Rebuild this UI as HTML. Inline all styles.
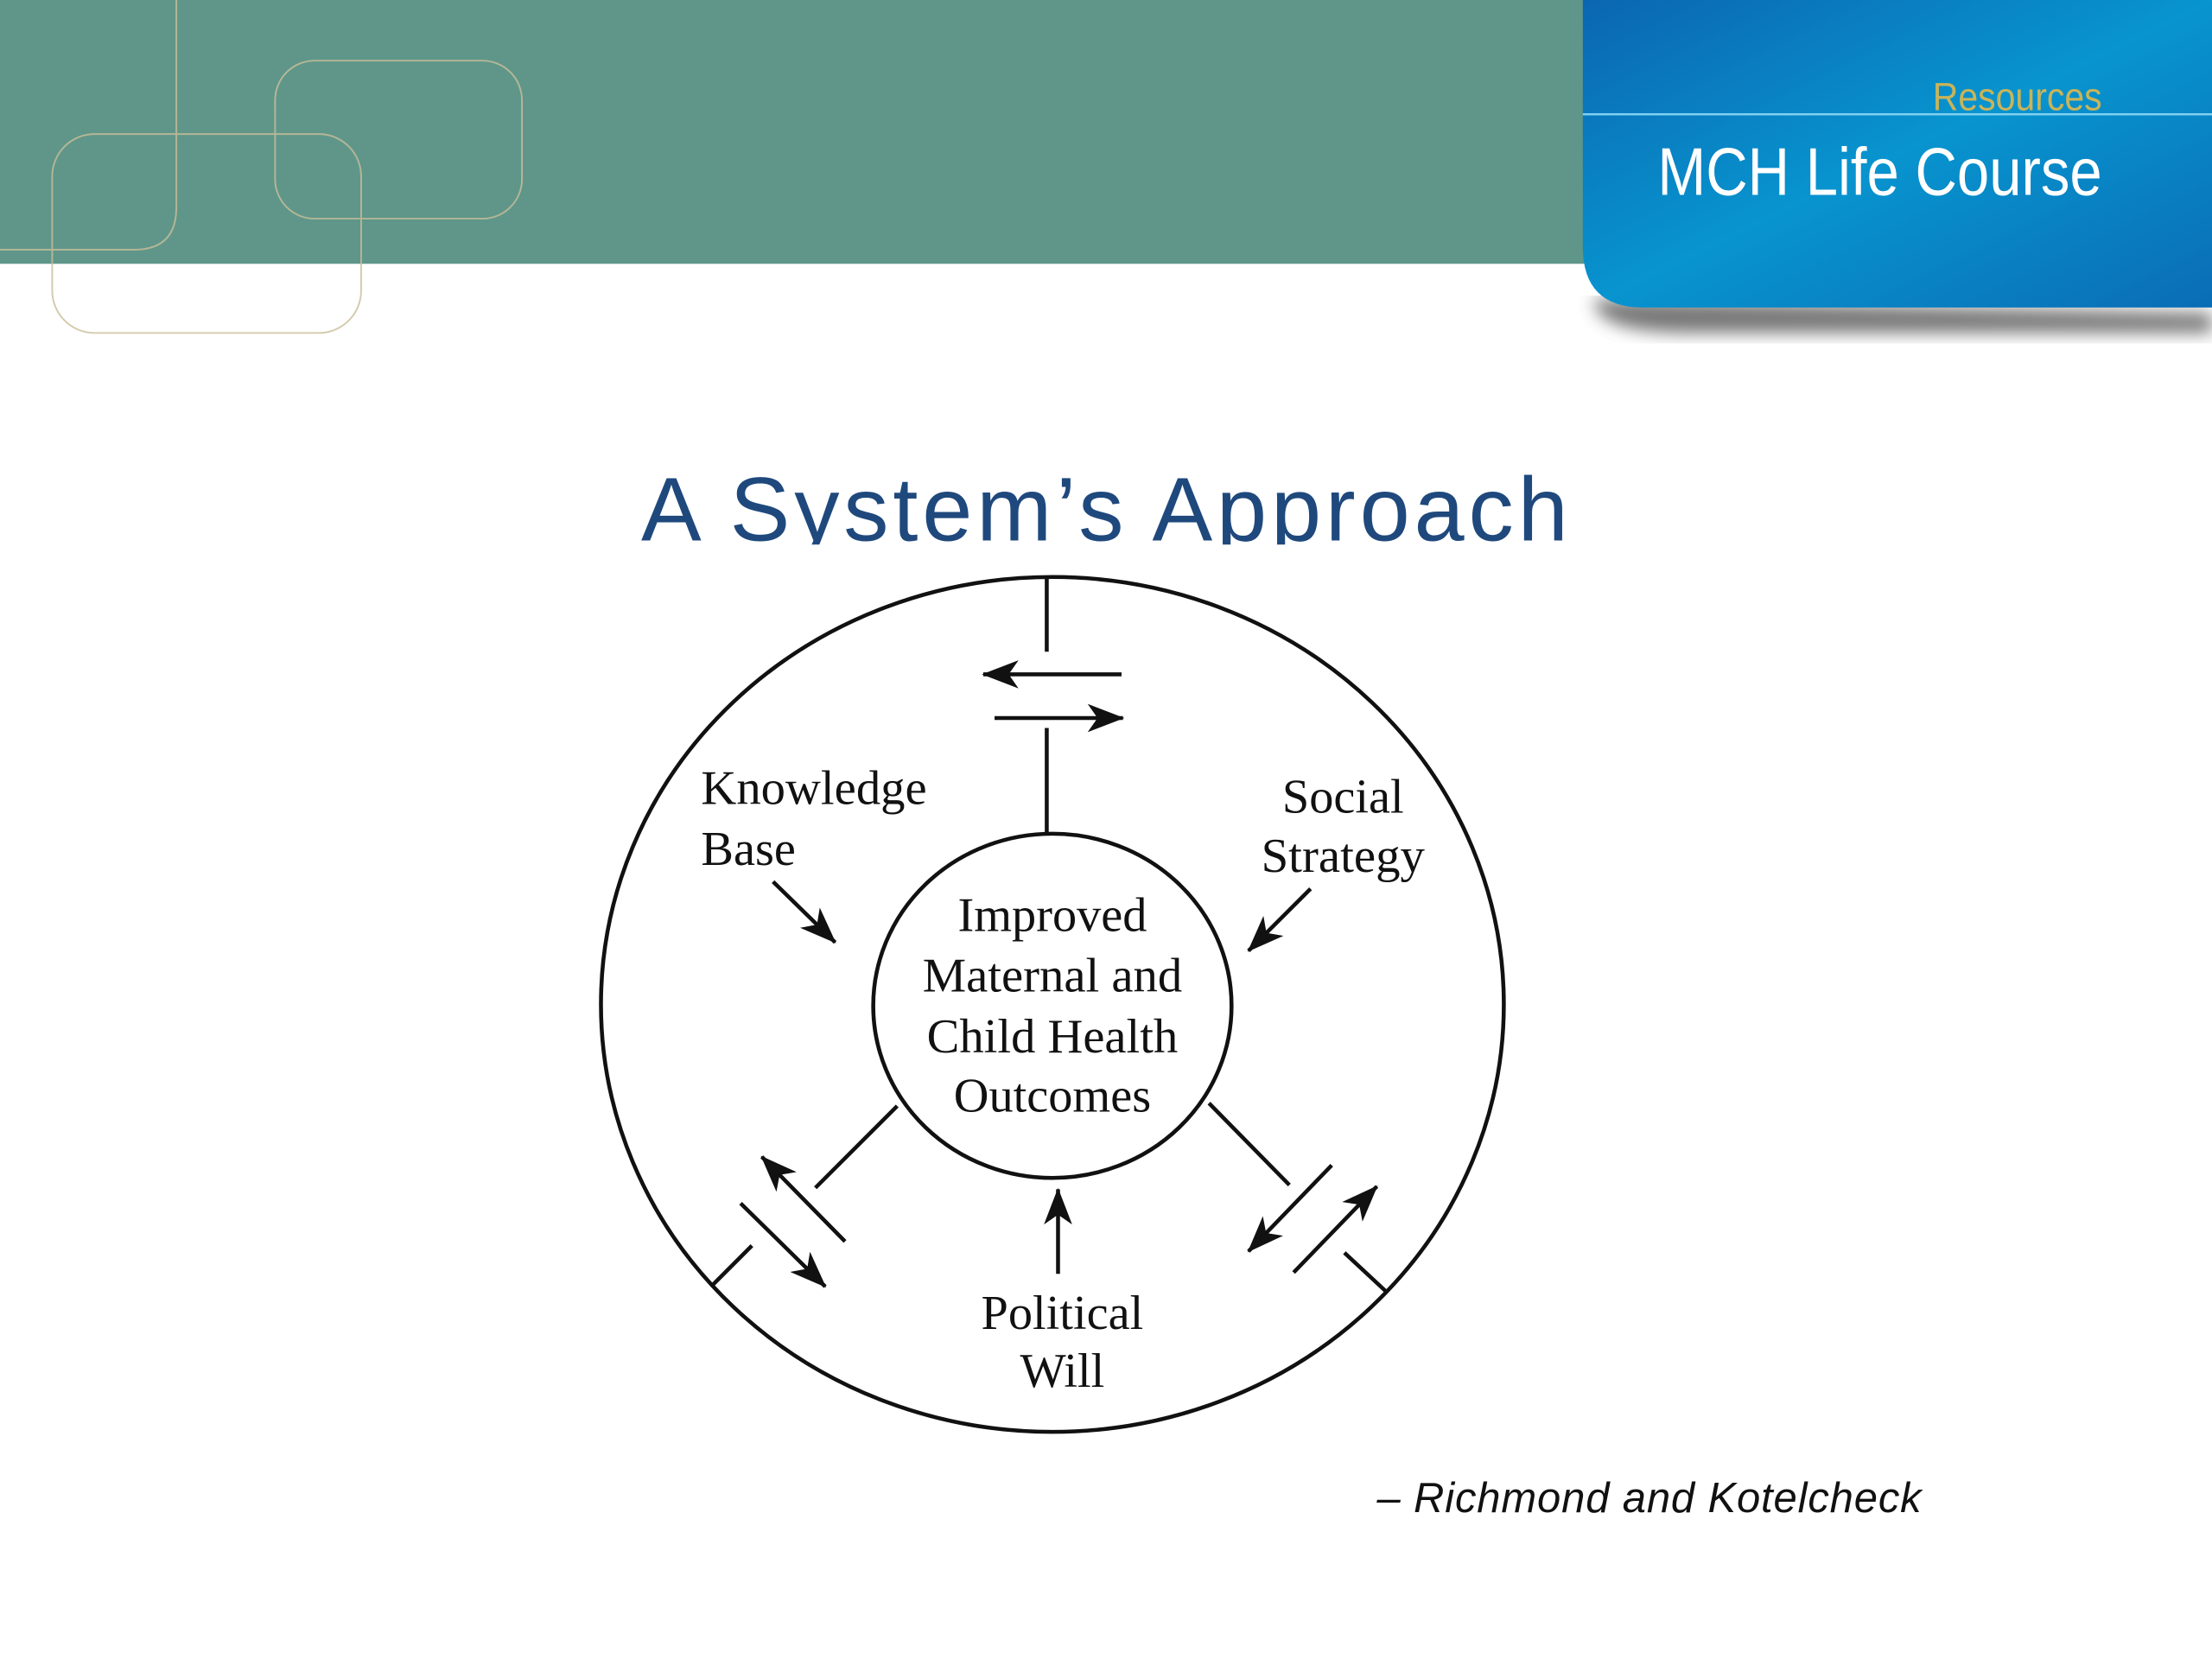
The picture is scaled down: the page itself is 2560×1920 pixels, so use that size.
<!DOCTYPE html>
<html><head><meta charset="utf-8"><style>
html,body{margin:0;padding:0;background:#fff;}
svg{display:block;}
</style></head><body>
<svg width="2560" height="1920" viewBox="0 0 1568 1176" xmlns="http://www.w3.org/2000/svg">
<defs>
<linearGradient id="bl" x1="0" y1="0" x2="1" y2="1">
<stop offset="0" stop-color="#0b66b2"/><stop offset="0.5" stop-color="#0894cf"/><stop offset="1" stop-color="#0a6db6"/>
</linearGradient>
<filter id="sh" x="-10%" y="-10%" width="130%" height="140%"><feGaussianBlur stdDeviation="6"/></filter>
<marker id="ah" viewBox="0 0 26 20" refX="25" refY="10" markerWidth="26" markerHeight="20" markerUnits="userSpaceOnUse" orient="auto">
<path d="M0,0 L26,10 L0,20 L7,10 Z" fill="#111"/>
</marker>
</defs>
<rect x="0" y="0" width="1568" height="1176" fill="#fff"/>
<rect x="0" y="0" width="1130" height="187" fill="#5f9689"/>
<g fill="none" stroke="#c9bf9a" stroke-width="1.2" opacity="0.8">
<rect x="37" y="95" width="219" height="141" rx="30"/>
<rect x="195" y="43" width="175" height="112" rx="28"/>
<path d="M-10,177 L95,177 Q125,177 125,147 L125,0"/>
</g>
<path d="M1130,212 Q1130,236 1200,236 L1568,236 L1568,222 Z" fill="#555" filter="url(#sh)" opacity="0.8"/>
<path d="M1122,0 L1568,0 L1568,218 L1165,218 Q1122,218 1122,175 Z" fill="url(#bl)"/>
<line x1="1122" y1="81" x2="1568" y2="81" stroke="#7fd0f0" stroke-width="1.5"/>
<text x="1490" y="78" text-anchor="end" font-family="Liberation Sans Narrow, Liberation Sans, sans-serif" font-size="28" fill="#c8b45a" textLength="120" lengthAdjust="spacingAndGlyphs">Resources</text>
<text x="1490" y="138" text-anchor="end" font-family="Liberation Sans Narrow, Liberation Sans, sans-serif" font-size="48" fill="#fff" textLength="315" lengthAdjust="spacingAndGlyphs">MCH Life Course</text>
<svg x="0" y="300" width="1568" height="86" viewBox="0 300 1568 86" overflow="hidden">
<text x="783" y="383" text-anchor="middle" font-family="Liberation Sans, sans-serif" font-size="64" fill="#1f497d" textLength="657">A System’s Approach</text>
</svg>
<g fill="none" stroke="#111" stroke-width="2.8">
<ellipse cx="746" cy="712" rx="320" ry="303"/>
<ellipse cx="746" cy="713" rx="127" ry="122"/>
<line x1="742" y1="409" x2="742" y2="462"/>
<line x1="742" y1="516" x2="742" y2="591"/>
<line x1="795" y1="478" x2="697" y2="478" marker-end="url(#ah)"/>
<line x1="705" y1="509" x2="796" y2="509" marker-end="url(#ah)"/>
<line x1="548" y1="625" x2="592" y2="668" marker-end="url(#ah)"/>
<line x1="929" y1="630" x2="885" y2="674" marker-end="url(#ah)"/>
<line x1="636" y1="784" x2="578" y2="842"/>
<line x1="599" y1="880" x2="540" y2="820" marker-end="url(#ah)"/>
<line x1="525" y1="853" x2="585" y2="912" marker-end="url(#ah)"/>
<line x1="533" y1="883" x2="505" y2="911"/>
<line x1="857" y1="782" x2="914" y2="840"/>
<line x1="944" y1="826" x2="885" y2="887" marker-end="url(#ah)"/>
<line x1="917" y1="902" x2="976" y2="841" marker-end="url(#ah)"/>
<line x1="953" y1="888" x2="982" y2="915"/>
<line x1="750" y1="903" x2="750" y2="843" marker-end="url(#ah)"/>
</g>
<g font-family="Liberation Serif, serif" font-size="34.5" fill="#111">
<text x="497" y="570" textLength="160" lengthAdjust="spacingAndGlyphs">Knowledge</text>
<text x="497" y="613">Base</text>
<text x="952" y="576" text-anchor="middle">Social</text>
<text x="952" y="618" text-anchor="middle" textLength="116" lengthAdjust="spacingAndGlyphs">Strategy</text>
<g text-anchor="middle">
<text x="746" y="660">Improved</text>
<text x="746" y="703" textLength="184" lengthAdjust="spacingAndGlyphs">Maternal and</text>
<text x="746" y="746" textLength="178" lengthAdjust="spacingAndGlyphs">Child Health</text>
<text x="746" y="788">Outcomes</text>
<text x="753" y="942">Political</text>
<text x="753" y="983">Will</text>
</g>
</g>
<text x="976" y="1072" font-family="Liberation Sans, sans-serif" font-style="italic" font-size="30" fill="#111" textLength="386">– Richmond and Kotelcheck</text>
</svg>
</body></html>
